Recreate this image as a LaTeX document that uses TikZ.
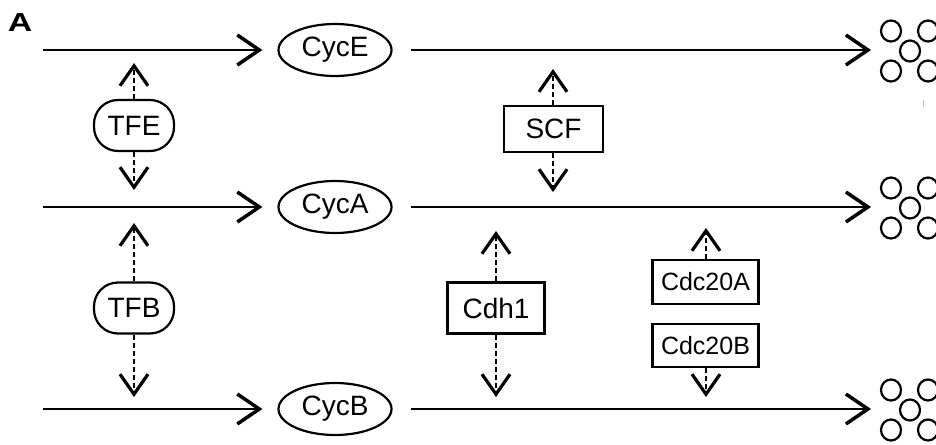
\documentclass[tikz,border=0pt]{standalone}
\usepackage{fontspec}
\setmainfont{Liberation Sans}
\usetikzlibrary{arrows.meta,shapes.geometric}
\begin{document}
\begin{tikzpicture}[x=1pt,y=-1pt,
 every node/.style={font=\fontsize{28}{32}\selectfont},
 cyc/.style={draw,ellipse,line width=2.2pt,minimum width=113pt,minimum height=52pt,inner sep=0pt},
 tf/.style={draw,rectangle,rounded corners=24pt,line width=2.2pt,minimum width=80pt,minimum height=51pt,inner sep=0pt},
 enz/.style={draw,rectangle,line width=2.2pt,inner sep=0pt},
 flow/.style={line width=2.5pt,-{Straight Barb[length=22pt,width=30pt,line width=3.5pt]}},
 reg/.style={line width=2.2pt,dash pattern=on 5pt off 3pt,-{Straight Barb[length=20pt,width=28pt,line width=3.2pt]}},
 dot/.style={line width=2.2pt}]
\useasboundingbox (0,0) rectangle (936,444);

\node[font=\bfseries\fontsize{26}{28}\selectfont,xscale=1.3,transform shape] (lblA) at (20,23) {A};

\node[cyc] (CycE) at (335,50) {CycE};
\node[cyc] (CycA) at (335,207) {CycA};
\node[cyc] (CycB) at (335,409) {CycB};
\node[tf] (TFE) at (134,125.5) {TFE};
\node[tf] (TFB) at (134,308) {TFB};
\node[enz,minimum width=99pt,minimum height=46pt] (SCF) at (553.5,129) {SCF};
\node[enz,minimum width=97pt,minimum height=51pt] (Cdh1) at (496,308) {Cdh1};
\node[enz,minimum width=106pt,minimum height=44pt,font=\fontsize{25}{28}\selectfont] (Cdc20A) at (705.5,282) {Cdc20A};
\node[enz,minimum width=106pt,minimum height=43pt,font=\fontsize{25}{28}\selectfont] (Cdc20B) at (705.5,345.5) {Cdc20B};

\coordinate (sE) at (43,50);
\coordinate (sA) at (43,207);
\coordinate (sB) at (43,409);
\coordinate (eE) at (871,50);
\coordinate (eA) at (871,207);
\coordinate (eB) at (871,409);

\draw[flow,shorten >=15pt] (sE) -- (CycE);
\draw[flow,shorten >=15pt] (sA) -- (CycA);
\draw[flow,shorten >=15pt] (sB) -- (CycB);
\draw[flow,shorten <=18pt] (CycE) -- (eE);
\draw[flow,shorten <=18pt] (CycA) -- (eA);
\draw[flow,shorten <=18pt] (CycB) -- (eB);

\coordinate (tTFEu) at (134,63);
\coordinate (tTFEd) at (134,190);
\coordinate (tTFBu) at (134,223);
\coordinate (tTFBd) at (134,397);
\coordinate (tSCFu) at (553,69);
\coordinate (tSCFd) at (553,192);
\coordinate (tCdhu) at (496,231);
\coordinate (tCdhd) at (496,397);
\coordinate (tCdAu) at (706,228);
\coordinate (tCdBd) at (706,397);

\draw[reg] (TFE) -- (tTFEu);
\draw[reg] (TFE) -- (tTFEd);
\draw[reg] (TFB) -- (tTFBu);
\draw[reg] (TFB) -- (tTFBd);
\draw[reg] (SCF.north -| tSCFu) -- (tSCFu);
\draw[reg] (SCF.south -| tSCFd) -- (tSCFd);
\draw[reg] (Cdh1) -- (tCdhu);
\draw[reg] (Cdh1) -- (tCdhd);
\draw[reg] (Cdc20A.north -| tCdAu) -- (tCdAu);
\draw[reg] (Cdc20B.south -| tCdBd) -- (tCdBd);

\foreach \yy in {50,207,409}{
  \draw[dot] (891,\yy-19) ellipse [x radius=10pt, y radius=10.5pt];
  \draw[dot] (928,\yy-19) ellipse [x radius=10pt, y radius=10.5pt];
  \draw[dot] (910,\yy+1) ellipse [x radius=10pt, y radius=10.5pt];
  \draw[dot] (891,\yy+21) ellipse [x radius=10pt, y radius=10.5pt];
  \draw[dot] (928,\yy+21) ellipse [x radius=10pt, y radius=10.5pt];
}
\draw[gray!50,line width=1pt] (923,100) -- (923,107);
\end{tikzpicture}
\end{document}
